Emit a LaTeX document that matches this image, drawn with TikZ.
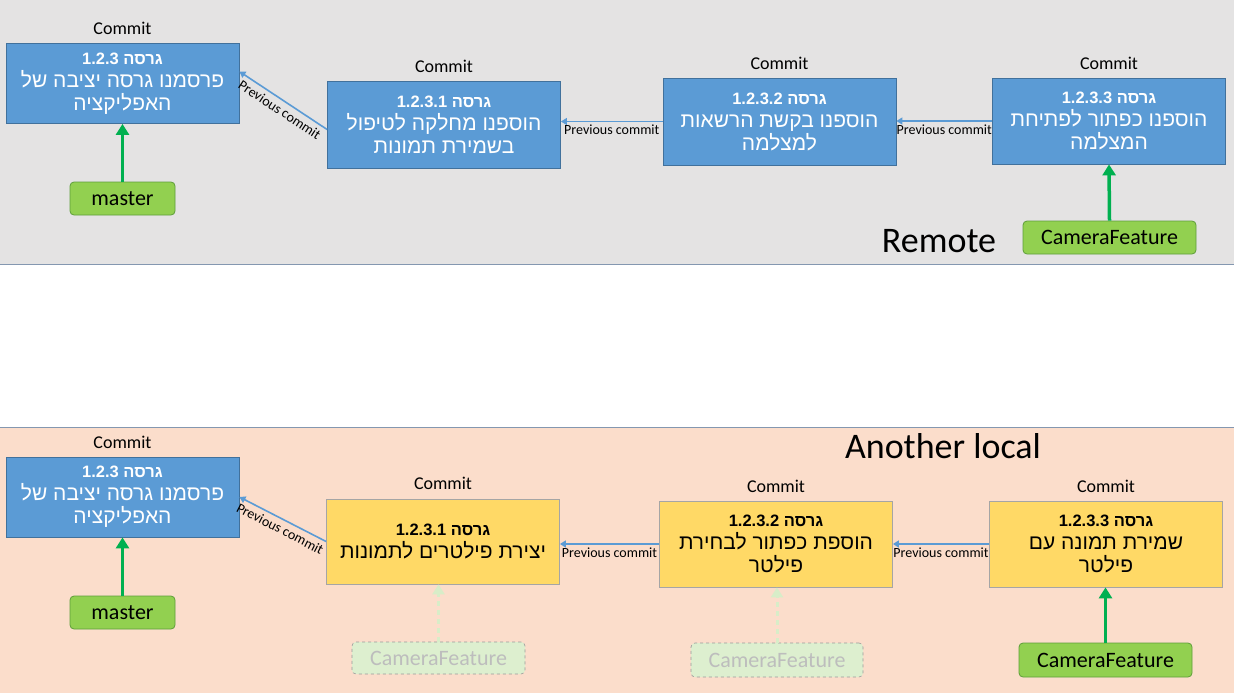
\documentclass[tikz,border=0pt]{standalone}
\usepackage{fontspec}
\setmainfont{Carlito}
\newfontfamily\heb[Script=Hebrew]{Liberation Sans}
\TeXXeTstate=1
\usetikzlibrary{arrows.meta}
\definecolor{bgtop}{HTML}{E4E3E3}
\definecolor{bgbot}{HTML}{FBDDCB}
\definecolor{sepline}{HTML}{8497B0}
\definecolor{bluebox}{HTML}{5B9BD5}
\definecolor{blueedge}{HTML}{41719C}
\definecolor{yelbox}{HTML}{FFD966}
\definecolor{yeledge}{HTML}{A5A5A5}
\definecolor{grbox}{HTML}{92D050}
\definecolor{gredge}{HTML}{5E9E3A}
\definecolor{grarrow}{HTML}{00B050}
\definecolor{fadefill}{HTML}{DDEFCF}
\definecolor{fadeedge}{HTML}{9A9A9A}
\definecolor{fadetext}{HTML}{BDBDBD}
\definecolor{fadearrow}{HTML}{D8EDC8}
\newcommand{\hdrfont}{\fontsize{16.5}{18}\selectfont\bfseries}
\newcommand{\bodyfont}{\fontsize{21}{23}\selectfont}
\newcommand{\ver}[1]{\beginR{\hdrfont גרסה \beginL #1\endL{}}\endR}
\newcommand{\rl}[1]{\beginR #1\endR}
\tikzset{
  commitbox/.style={draw=blueedge, fill=bluebox, text=white, line width=0.8pt,
    minimum width=233pt, minimum height=80pt, align=center, inner sep=0pt,
    font=\heb\bodyfont},
  yelcommit/.style={commitbox, draw=yeledge, fill=yelbox, text=black},
  committitle/.style={font=\fontsize{18}{20}\selectfont, text=black},
  branch/.style={draw=gredge, fill=grbox, rounded corners=4pt, line width=0.8pt,
    minimum width=105pt, minimum height=33pt, inner sep=0pt,
    font=\fontsize{22}{24}\selectfont},
  fadebranch/.style={branch, draw=fadeedge, fill=fadefill, text=fadetext, dashed, line width=0.6pt},
  prevlink/.style={draw=bluebox, line width=1.6pt, -{Triangle[width=7pt,length=6pt]}},
  prevlabel/.style={font=\fontsize{14}{16}\selectfont, text=black, inner sep=1pt},
  headarrow/.style={draw=grarrow, line width=3.5pt, -{Triangle[width=13pt,length=11pt]}},
  fadearrowst/.style={draw=fadearrow, line width=3pt, dash pattern=on 5pt off 4pt, -{Triangle[width=12pt,length=10pt]}},
  areatitle/.style={font=\fontsize{36}{40}\selectfont, text=black},
}
\begin{document}
\begin{tikzpicture}[x=1pt,y=-1pt]
\useasboundingbox (0,0) rectangle (1234,693);
% backgrounds
\fill[bgtop] (0,0) rectangle (1234,264);
\fill[white] (0,264) rectangle (1234,427);
\fill[bgbot] (0,427) rectangle (1234,693);
\draw[sepline, line width=1pt] (0,264) -- (1234,264);
\draw[sepline, line width=1pt] (0,427) -- (1234,427);

% ---------- Remote ----------
\node[commitbox] (r1) at (122.5,83.5) {\ver{1.2.3}\\\rl{פרסמנו גרסה יציבה של}\\\rl{האפליקציה}};
\node[commitbox, minimum height=87pt] (r2) at (444,124.5) {\ver{1.2.3.1}\\\rl{הוספנו מחלקה לטיפול}\\\rl{בשמירת תמונות}};
\node[commitbox, minimum height=87pt] (r3) at (779.5,121.5) {\ver{1.2.3.2}\\\rl{הוספנו בקשת הרשאות}\\\rl{למצלמה}};
\node[commitbox, minimum height=86pt] (r4) at (1109,121) {\ver{1.2.3.3}\\\rl{הוספנו כפתור לפתיחת}\\\rl{המצלמה}};

\node[committitle] (rt1) at (122.5,28) {Commit};
\node[committitle] (rt2) at (444,66) {Commit};
\node[committitle] (rt3) at (779.5,63) {Commit};
\node[committitle] (rt4) at (1109,63) {Commit};

\node[branch] (rmaster) at (122.5,198.5) {master};
\node[branch, minimum width=173pt] (rcam) at (1109.5,237.5) {CameraFeature};

\draw[headarrow] (rmaster.north) -- (r1.south);
\draw[headarrow] (rcam.north) -- (r4.south);

\coordinate (r1in) at ([yshift=12pt]r1.east);
\coordinate (r2out) at ([yshift=-5pt]r2.west);
\coordinate (r3out) at (r3.west);
\coordinate (r4out) at (r4.west);
\draw[prevlink] (r2out) -- node[prevlabel, sloped, below=3pt, pos=0.48] {Previous commit} (r1in);
\draw[prevlink] (r3out) -- node[prevlabel, below=2pt] {Previous commit} (r2.east |- r3out);
\draw[prevlink] (r4out) -- node[prevlabel, below=2pt] {Previous commit} (r3.east |- r4out);

\node[areatitle] (remote) at (939,241) {Remote};

% ---------- Another local ----------
\node[commitbox] (l1) at (122.5,497) {\ver{1.2.3}\\\rl{פרסמנו גרסה יציבה של}\\\rl{האפליקציה}};
\node[yelcommit, minimum height=85pt] (l2) at (443,541.5) {\ver{1.2.3.1}\\\rl{יצירת פילטרים לתמונות}};
\node[yelcommit, minimum height=86pt] (l3) at (776,544) {\ver{1.2.3.2}\\\rl{הוספת כפתור לבחירת}\\\rl{פילטר}};
\node[yelcommit, minimum height=86pt] (l4) at (1106,544) {\ver{1.2.3.3}\\\rl{שמירת תמונה עם}\\\rl{פילטר}};

\node[committitle] (lt1) at (122.5,442) {Commit};
\node[committitle] (lt2) at (443,483) {Commit};
\node[committitle] (lt3) at (776,486) {Commit};
\node[committitle] (lt4) at (1106,486) {Commit};

\node[branch] (lmaster) at (122.5,612.5) {master};
\node[fadebranch, minimum width=173pt, minimum height=32pt] (lcamA) at (438.5,658) {CameraFeature};
\node[fadebranch, minimum width=172pt, minimum height=34pt] (lcamB) at (777,660) {CameraFeature};
\node[branch, minimum width=173pt, minimum height=34pt] (lcam) at (1105.5,660) {CameraFeature};

\draw[headarrow] (lmaster.north) -- (l1.south);
\draw[headarrow] (lcam.north) -- (lcam.north |- l4.south);
\draw[fadearrowst] (lcamA.north) -- (lcamA.north |- l2.south);
\draw[fadearrowst] (lcamB.north) -- (lcamB.north |- l3.south);

\draw[prevlink] (l2.west) -- node[prevlabel, sloped, below=3pt, pos=0.48] {Previous commit} (l1.east);
\draw[prevlink] (l3.west) -- node[prevlabel, below=2pt] {Previous commit} (l2.east |- l3.west);
\draw[prevlink] (l4.west) -- node[prevlabel, below=2pt] {Previous commit} (l3.east);

\node[areatitle] (another) at (943,446) {Another local};
\end{tikzpicture}
\end{document}
